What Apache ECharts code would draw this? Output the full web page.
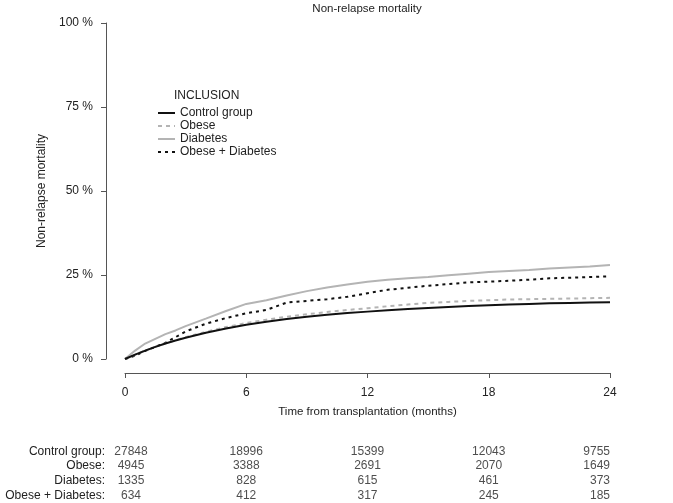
<!DOCTYPE html>
<html>
<head>
<meta charset="utf-8">
<script src="https://cdn.jsdelivr.net/npm/echarts@6/dist/echarts.min.js"></script>
<style>html,body{margin:0;padding:0;background:#fff}#c{width:673px;height:503px}</style>
</head>
<body>
<div id="c"></div>
<script>
const groups = ['Control group', 'Obese', 'Diabetes', 'Obese + Diabetes'];
const months = [0, 0.5, 1, 1.5, 2, 2.5, 3, 4, 5, 6, 7, 8, 9, 10, 11, 12, 13, 14, 15, 16, 17, 18, 19, 20, 21, 22, 23, 24];
const control = [0, 1.3, 2.5, 3.6, 4.6, 5.5, 6.3, 7.8, 9.1, 10.2, 11.1, 11.9, 12.6, 13.2, 13.7, 14.1, 14.5, 14.9, 15.2, 15.5, 15.8, 16.0, 16.2, 16.4, 16.6, 16.7, 16.8, 16.9];
const obese = [0, 1.3, 2.5, 3.6, 4.6, 5.6, 6.5, 8.1, 9.5, 10.7, 11.7, 12.6, 13.3, 14.0, 14.6, 15.1, 15.7, 16.2, 16.7, 17.0, 17.3, 17.5, 17.7, 17.8, 17.9, 18.0, 18.1, 18.2];
const diabetes = [0, 2.5, 4.6, 6.0, 7.4, 8.5, 9.8, 12.0, 14.3, 16.4, 17.5, 18.9, 20.2, 21.3, 22.2, 23.0, 23.6, 24.0, 24.4, 24.9, 25.4, 25.9, 26.2, 26.5, 26.9, 27.2, 27.5, 28.0];
const obeseDiabetes = [0, 1.0, 2.4, 3.6, 4.8, 6.5, 8.2, 10.5, 12.2, 13.6, 14.6, 16.8, 17.3, 17.8, 18.5, 19.6, 20.6, 21.2, 21.8, 22.3, 22.8, 23.0, 23.3, 23.6, 24.0, 24.2, 24.4, 24.6];
const riskTimes = [0, 6, 12, 18, 24];
const riskControl = [27848, 18996, 15399, 12043, 9755];
const riskObese = [4945, 3388, 2691, 2070, 1649];
const riskDiabetes = [1335, 828, 615, 461, 373];
const riskObeseDiabetes = [634, 412, 317, 245, 185];
const yTicks = [0, 25, 50, 75, 100];

const font = 'Liberation Sans, Arial, Helvetica, sans-serif';
const txt = '#222';
const axisCol = '#555';

const curves = [control, obese, diabetes, obeseDiabetes];
const styles = [
  {color: '#111111', type: 'solid', width: 2},
  {color: '#b4b4b4', type: [4, 4], width: 2},
  {color: '#b4b4b4', type: 'solid', width: 2},
  {color: '#111111', type: [3, 4], width: 2}
];
const risks = [riskControl, riskObese, riskDiabetes, riskObeseDiabetes];

const lineSeries = groups.map((g, i) => ({
  name: g,
  type: 'line',
  xAxisIndex: 0, yAxisIndex: 0,
  symbol: 'none',
  smooth: false,
  data: months.map((m, k) => [m, curves[i][k]]),
  lineStyle: styles[i],
  itemStyle: {color: styles[i].color},
  z: 10 - i
}));

const riskSeries = groups.map((g, i) => ({
  name: 'risk_' + g,
  type: 'scatter',
  xAxisIndex: 1, yAxisIndex: 1,
  symbolSize: 0,
  silent: true,
  data: riskTimes.map((t, k) => {
    const lab = {show: true, position: 'inside', formatter: String(risks[i][k]), color: txt, fontFamily: font, fontSize: 12};
    if (k === 0) { lab.offset = [6, 0]; }
    if (k === riskTimes.length - 1) { lab.align = 'right'; lab.offset = [0, 0]; }
    return {value: [t, g + ':'], label: lab};
  })
}));

const chart = echarts.init(document.getElementById('c'), null, {renderer: 'canvas'});
chart.setOption({
  backgroundColor: '#fff',
  animation: false,
  textStyle: {fontFamily: font},
  title: [
    {text: 'Non-relapse mortality', left: 367, top: 3, textAlign: 'center', padding: 0,
     textStyle: {fontFamily: font, fontSize: 11.5, fontWeight: 'normal', color: txt}},
    {text: 'INCLUSION', left: 174, top: 90, padding: 0,
     textStyle: {fontFamily: font, fontSize: 12, fontWeight: 'normal', color: txt}}
  ],
  legend: {
    data: groups,
    orient: 'vertical',
    left: 157, top: 107, padding: 0,
    itemWidth: 17, itemHeight: 10, itemGap: 1,
    itemStyle: {opacity: 0},
    textStyle: {fontFamily: font, fontSize: 12, color: txt, lineHeight: 12},
    selectedMode: false
  },
  grid: [
    {left: 125, right: 63, top: 23, height: 336},
    {left: 125, right: 63, top: 444, height: 62}
  ],
  xAxis: [
    {type: 'value', gridIndex: 0, min: 0, max: 24, interval: 6, offset: 14,
     axisLine: {show: true, onZero: false, lineStyle: {color: axisCol, width: 1}},
     axisTick: {show: true, length: 5, lineStyle: {color: axisCol}},
     axisLabel: {color: txt, fontFamily: font, fontSize: 12, margin: 14},
     splitLine: {show: false},
     name: 'Time from transplantation (months)', nameLocation: 'middle', nameGap: 33,
     nameTextStyle: {color: txt, fontFamily: font, fontSize: 11.5}},
    {type: 'value', gridIndex: 1, min: 0, max: 24, show: false}
  ],
  yAxis: [
    {type: 'value', gridIndex: 0, min: 0, max: 100, interval: 25, offset: 19,
     axisLine: {show: true, onZero: false, lineStyle: {color: axisCol, width: 1}},
     axisTick: {show: true, length: 5, lineStyle: {color: axisCol}},
     axisLabel: {color: txt, fontFamily: font, fontSize: 12, margin: 13,
                 formatter: v => yTicks.includes(v) ? v + ' %' : ''},
     splitLine: {show: false},
     name: 'Non-relapse mortality', nameLocation: 'middle', nameGap: 56, nameRotate: 90,
     nameTextStyle: {color: txt, fontFamily: font, fontSize: 12}},
    {type: 'category', gridIndex: 1, inverse: true, data: groups.map(g => g + ':'),
     axisLine: {show: false}, axisTick: {show: false},
     axisLabel: {color: txt, fontFamily: font, fontSize: 12, margin: 20, interval: 0}}
  ],
  series: lineSeries.concat(riskSeries)
});
</script>
</body>
</html>
